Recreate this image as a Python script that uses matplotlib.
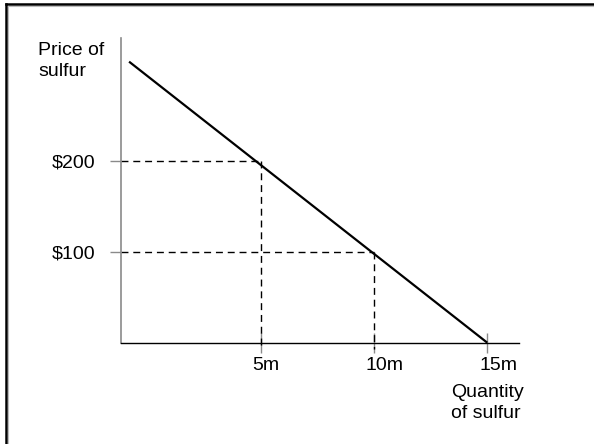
import matplotlib.pyplot as plt
import matplotlib.transforms as mtransforms
from matplotlib.lines import Line2D

plt.rcParams['font.family'] = ['Liberation Sans', 'DejaVu Sans']

# demand curve (quantity in millions, price in $)
demand_q = [-0.8, 15]
demand_p = [309, 0]

# marked points on the curve
point_q = [5, 10]
point_p = [200, 100]

xtick_vals = [5, 10, 15]
xtick_labels = ['5m', '10m', '15m']
ytick_vals = [100, 200]
ytick_labels = ['$100', '$200']

fig = plt.figure(figsize=(5.94, 4.44), dpi=100)
ax = fig.add_axes([0.2032, 0.2282, 0.6705, 0.6862])
ax.set_xlim(-1.17, 16.4)
ax.set_ylim(0, 335)

for s in ['top', 'right']:
    ax.spines[s].set_visible(False)
ax.spines['left'].set_color('#8a8a8a')
ax.spines['left'].set_linewidth(1.2)
ax.spines['bottom'].set_color('black')
ax.spines['bottom'].set_linewidth(1.0)

ax.plot(demand_q, demand_p, color='black', lw=1.6, solid_capstyle='butt')

for q, p in zip(point_q, point_p):
    ax.plot([ax.get_xlim()[0], q], [p, p], color='black', lw=1.0,
            dashes=(5, 3.5))
    ax.plot([q, q], [p, -7], color='black', lw=1.0, dashes=(5, 3.5),
            clip_on=False)

ax.set_yticks(ytick_vals)
ax.set_yticklabels(ytick_labels, fontsize=14)
ax.tick_params(axis='y', direction='out', length=8, width=1, color='#8a8a8a',
               pad=10)

ax.set_xticks(xtick_vals)
ax.set_xticklabels(xtick_labels, fontsize=14)
ax.tick_params(axis='x', direction='inout', length=14, width=1, color='#8a8a8a',
               pad=3)
offs = mtransforms.ScaledTranslation(-8 / 100, 0, fig.dpi_scale_trans)
for lbl in ax.get_xticklabels():
    lbl.set_horizontalalignment('left')
    lbl.set_transform(lbl.get_transform() + offs)

fig.text(38 / 594, 1 - 42 / 444, 'Price of\nsulfur', fontsize=14,
         va='top', ha='left', linespacing=1.3)
fig.text(451 / 594, 1 - 384 / 444, 'Quantity\nof sulfur', fontsize=14,
         va='top', ha='left', linespacing=1.3)

# frame (top and left edges only)
fig.add_artist(Line2D([5.5 / 594, 1], [1 - 4 / 444, 1 - 4 / 444],
                      transform=fig.transFigure, color='black', lw=1.8))
fig.add_artist(Line2D([5.5 / 594, 5.5 / 594], [0, 1 - 4 / 444],
                      transform=fig.transFigure, color='black', lw=1.8))
fig.add_artist(Line2D([7.5 / 594, 1], [1 - 6 / 444, 1 - 6 / 444],
                      transform=fig.transFigure, color='#bbbbbb', lw=0.8))
fig.add_artist(Line2D([7.5 / 594, 7.5 / 594], [0, 1 - 6 / 444],
                      transform=fig.transFigure, color='#bbbbbb', lw=0.8))

fig.savefig('out.png', dpi=100)
